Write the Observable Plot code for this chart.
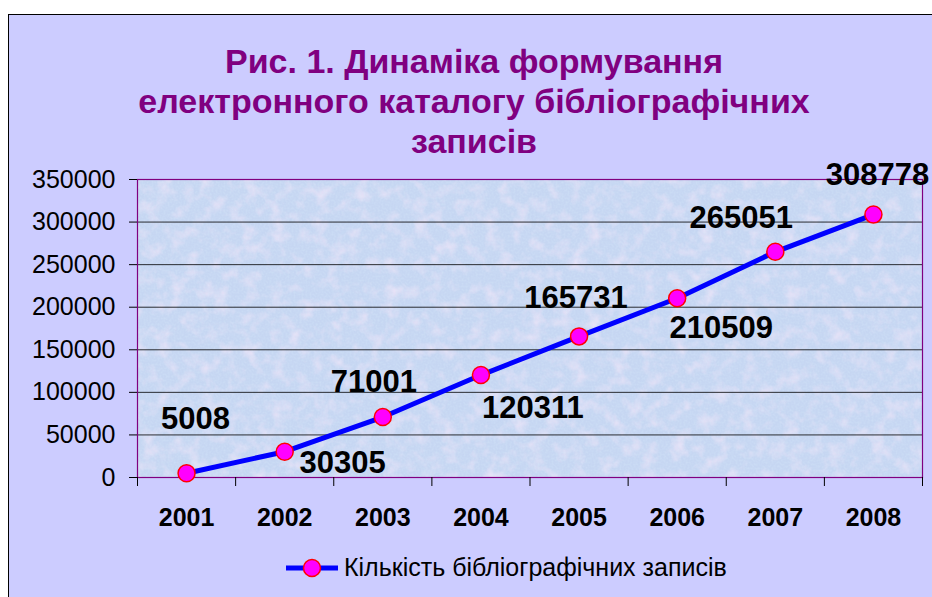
<!DOCTYPE html>
<html>
<head>
<meta charset="utf-8">
<script src="https://cdn.jsdelivr.net/npm/d3@7"></script>
<script src="https://cdn.jsdelivr.net/npm/@observablehq/plot@0.6"></script>
<style>
  html, body { margin: 0; padding: 0; background: #ffffff; overflow: hidden; }
  body { width: 932px; height: 597px; position: relative; font-family: "Liberation Sans", Arial, sans-serif; }
  #frame { position: absolute; left: 8px; top: 14px; width: 940px; height: 600px;
           background: #ccccff; border-left: 1.5px solid #000; border-top: 1.5px solid #000; }
  #title { position: absolute; left: 0; top: 41px; width: 948px; text-align: center;
           color: #800080; font-weight: bold; font-size: 34px; line-height: 40px; }
  #chart { position: absolute; left: 0; top: 0; }
  #legend { position: absolute; left: 283px; top: 555px; height: 26px; white-space: nowrap; }
  #legend svg { position: absolute; left: 0; top: 3px; }
  #legend span { position: absolute; left: 61px; top: 0; font-size: 25px; line-height: 25px; color: #000; }
</style>
</head>
<body>
<div id="frame"></div>
<div id="title"></div>
<div id="chart"></div>
<div id="legend"></div>
<script>
// ---- data ----
const titleLines = ["Рис. 1. Динаміка формування", "електронного каталогу бібліографічних", "записів"];
const years = [2001, 2002, 2003, 2004, 2005, 2006, 2007, 2008];
const records = [5008, 30305, 71001, 120311, 165731, 210509, 265051, 308778];
const yTicks = [0, 50000, 100000, 150000, 200000, 250000, 300000, 350000];
const seriesName = "Кількість бібліографічних записів";

const data = years.map((year, i) => ({year, value: records[i]}));
const boundaries = years.map(y => y - 0.5).concat([years[years.length - 1] + 0.5]);

// label placement (manual offsets as in the original chart): [dx of centre, dy of baseline]
const labelOffsets = [[9, -44], [58, 21], [-9, -25], [52, 43], [-3, -28], [44, 40], [-34, -24], [4, -30]];

document.getElementById("title").innerHTML = titleLines.map(t => `<div>${t}</div>`).join("");

const labelMarks = data.map((d, i) => Plot.text([d], {
  x: "year", y: "value", text: r => String(r.value),
  dx: labelOffsets[i][0], dy: labelOffsets[i][1],
  textAnchor: "middle", lineAnchor: "bottom",
  fontSize: 31, fontWeight: "bold", fill: "#000"
}));

const chart = Plot.plot({
  width: 932, height: 545,
  marginLeft: 137, marginRight: 10, marginTop: 179, marginBottom: 68,
  style: {background: "transparent", fontFamily: "'Liberation Sans', Arial, sans-serif", color: "#000", overflow: "visible"},
  x: {type: "linear", domain: [2000.5, 2008.5], axis: null},
  y: {domain: [0, 350000], axis: null},
  marks: [
    Plot.frame({fill: "#c6d6f2"}),
    () => {
      // subtle paper texture over the plot area
      const svg = d3.create("svg:g");
      const defs = svg.append("defs");
      const f = defs.append("filter").attr("id", "tex").attr("x", 0).attr("y", 0).attr("width", "100%").attr("height", "100%");
      f.append("feTurbulence").attr("type", "fractalNoise").attr("baseFrequency", "0.07").attr("numOctaves", 3).attr("seed", 7);
      f.append("feColorMatrix").attr("type", "matrix")
        .attr("values", "0 0 0 0 0.86  0 0 0 0 0.78  0 0 0 0 0.94  1.8 0 0 0 -0.82");
      const f2 = defs.append("filter").attr("id", "tex2").attr("x", 0).attr("y", 0).attr("width", "100%").attr("height", "100%");
      f2.append("feTurbulence").attr("type", "fractalNoise").attr("baseFrequency", "0.5").attr("numOctaves", 1).attr("seed", 3);
      f2.append("feColorMatrix").attr("type", "matrix")
        .attr("values", "0 0 0 0 0.70  0 0 0 0 0.85  0 0 0 0 0.97  1.2 0 0 0 -0.45");
      svg.append("rect").attr("x", 137).attr("y", 179).attr("width", 785).attr("height", 298).attr("filter", "url(#tex)");
      svg.append("rect").attr("x", 137).attr("y", 179).attr("width", 785).attr("height", 298).attr("filter", "url(#tex2)").attr("opacity", 0.5);
      return svg.node();
    },
    Plot.gridY(yTicks.slice(1), {stroke: "#000", strokeOpacity: 0.8, strokeWidth: 1}),
    Plot.frame({stroke: "#800080", strokeWidth: 1.2}),
    Plot.axisY(yTicks, {label: null, tickSize: 8, tickPadding: 14, tickFormat: d => String(d), fontSize: 25, stroke: "#000", fill: "#000"}),
    Plot.axisX(boundaries, {label: null, tickSize: 9, tickFormat: () => "", stroke: "#000"}),
    Plot.axisX(years, {label: null, tickSize: 0, tickPadding: 31, tickFormat: d => String(d), fontSize: 25, fontWeight: "bold", fill: "#000"}),
    Plot.line(data, {x: "year", y: "value", stroke: "#0000ff", strokeWidth: 5}),
    Plot.dot(data, {x: "year", y: "value", r: 8.5, fill: "#ff00ff", stroke: "#ff0000", strokeWidth: 1.5}),
    ...labelMarks
  ]
});
document.getElementById("chart").appendChild(chart);

// legend
const leg = d3.select("#legend");
const ls = leg.append("svg").attr("width", 60).attr("height", 22);
ls.append("line").attr("x1", 3).attr("x2", 55).attr("y1", 10).attr("y2", 10).attr("stroke", "#0000ff").attr("stroke-width", 5);
ls.append("circle").attr("cx", 29).attr("cy", 10).attr("r", 8.5).attr("fill", "#ff00ff").attr("stroke", "#ff0000").attr("stroke-width", 1.5);
leg.append("span").text(seriesName);
</script>
</body>
</html>
